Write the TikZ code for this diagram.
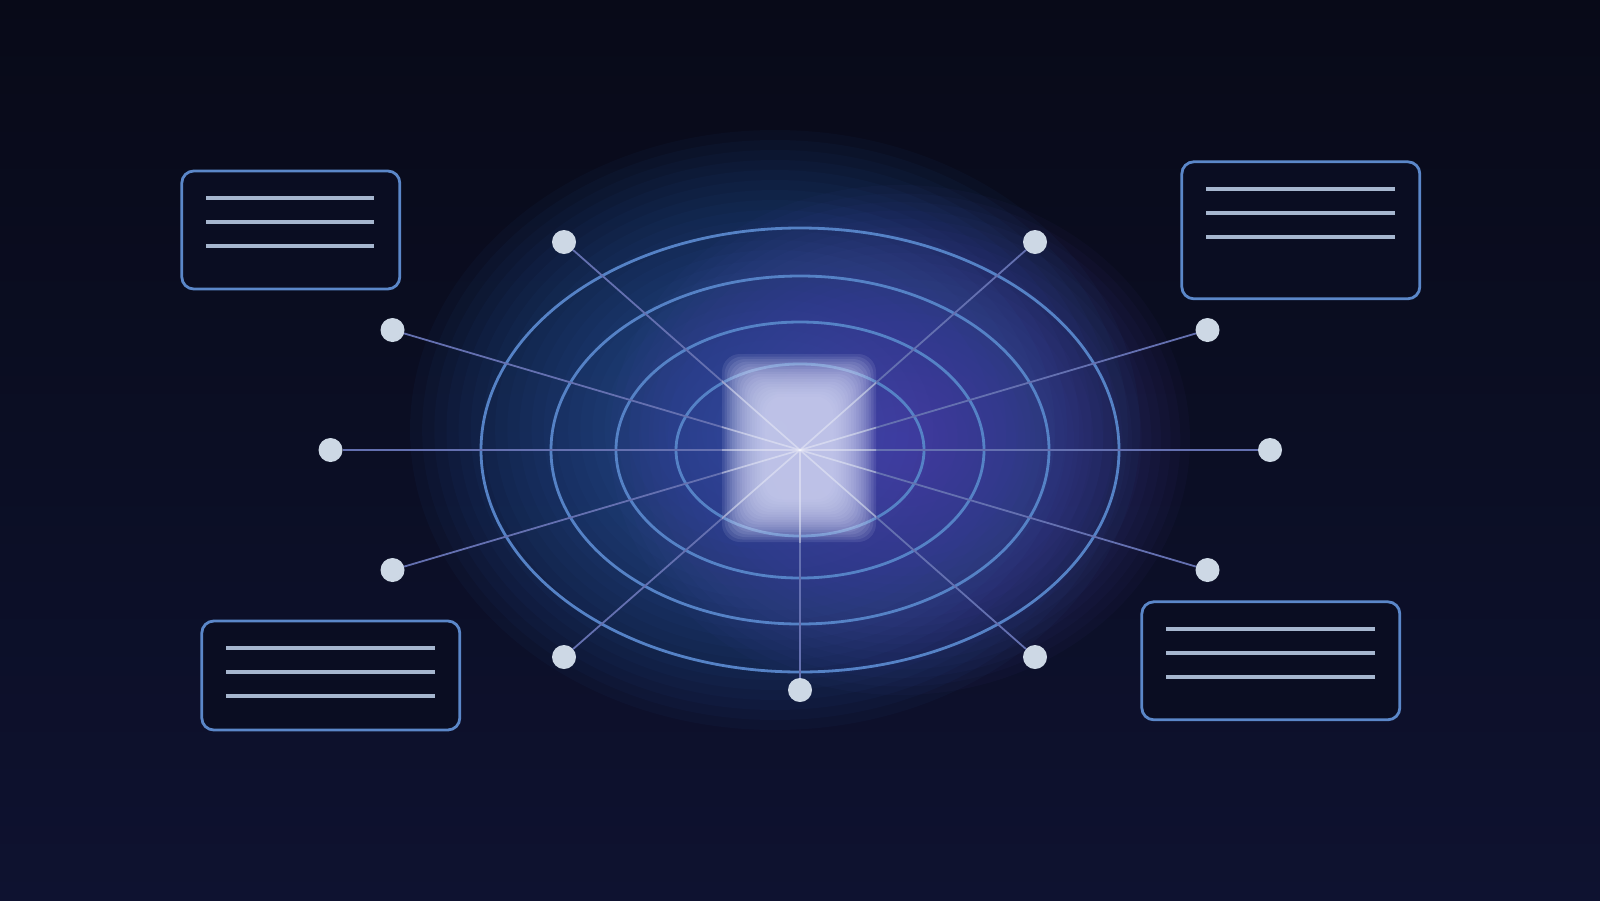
\documentclass[tikz,border=0pt]{standalone}
\usetikzlibrary{calc}
\definecolor{bgtop}{HTML}{080A18}
\definecolor{bgbot}{HTML}{0E1230}
\definecolor{ringc}{HTML}{5582C6}
\definecolor{spokec}{HTML}{6470B0}
\definecolor{dotc}{HTML}{CDD8E5}
\definecolor{boxc}{HTML}{5B87C9}
\definecolor{linec}{HTML}{A6B6CF}
\definecolor{glowblue}{HTML}{3060B0}
\definecolor{glowpurple}{HTML}{5450B8}
\definecolor{corec}{HTML}{D4D8F6}
\tikzset{
  ring/.style={draw=ringc, line width=2.8pt},
  spoke/.style={draw=spokec, line width=1.8pt},
  dotn/.style={circle, fill=dotc, minimum size=24pt, inner sep=0pt, outer sep=0pt},
  boxn/.style={draw=boxc, line width=2.8pt, rounded corners=12pt, inner sep=0pt, outer sep=0pt, fill=bgtop!60!bgbot},
  txtline/.style={draw=linec, line width=4pt}
}
\begin{document}
\begin{tikzpicture}[x=1pt,y=-1pt]
\useasboundingbox (0,0) rectangle (1600,900);
\shade[top color=bgtop, bottom color=bgbot] (0,0) rectangle (1600,900);
% glows (stacked translucent ellipses)
\foreach \i in {1,...,30} {
  \fill[glowblue, fill opacity=0.05] (775,430) ellipse ({365*\i/30} and {300*\i/30});
}
\foreach \i in {1,...,30} {
  \fill[glowpurple, fill opacity=0.045] (900,440) ellipse ({290*\i/30} and {255*\i/30});
}
\coordinate (c) at (800,450);
% rings
\draw[ring] (c) ellipse (319 and 222);
\draw[ring] (c) ellipse (249 and 174);
\draw[ring] (c) ellipse (184 and 128);
\draw[ring] (c) ellipse (124 and 86);
% dots
\node[dotn] (d1) at (564,242) {};
\node[dotn] (d2) at (1035,242) {};
\node[dotn] (d3) at (392.5,330) {};
\node[dotn] (d4) at (1207.5,330) {};
\node[dotn] (d5) at (330.5,450) {};
\node[dotn] (d6) at (1270,450) {};
\node[dotn] (d7) at (392.5,570) {};
\node[dotn] (d8) at (1207.5,570) {};
\node[dotn] (d9) at (564,657) {};
\node[dotn] (d10) at (1035,657) {};
\node[dotn] (d11) at (800,690) {};
% spokes
\foreach \d in {d1,d2,d3,d4,d5,d6,d7,d8,d9,d10,d11} {
  \draw[spoke] (c) -- (\d);
}
% soft core
\foreach \i in {0,...,17} {
  \fill[corec, fill opacity=0.11, rounded corners=18pt]
    (722+2.5*\i, 354+2.5*\i) rectangle (876-2.5*\i, 542-2.5*\i);
}
\begin{scope}
  \clip (722,354) rectangle (876,542);
  \foreach \d in {d1,d2,d3,d4,d5,d6,d7,d8,d9,d10,d11} {
    \draw[draw=white, line width=1.6pt, draw opacity=0.3] (c) -- (\d);
  }
\end{scope}
% boxes
\node[boxn, minimum width=218pt, minimum height=118pt] (b1) at (290.8,230) {};
\node[boxn, minimum width=238pt, minimum height=137pt] (b2) at (1300.8,230.3) {};
\node[boxn, minimum width=258pt, minimum height=109pt] (b3) at (330.8,675.5) {};
\node[boxn, minimum width=258pt, minimum height=118pt] (b4) at (1270.8,660.8) {};
\foreach \b/\w in {b1/168,b2/189,b3/209,b4/209} {
  \foreach \k in {0,1,2} {
    \draw[txtline] ($(\b.north west)+(24.5,27+24*\k)$) -- ++(\w,0);
  }
}
\end{tikzpicture}
\end{document}
